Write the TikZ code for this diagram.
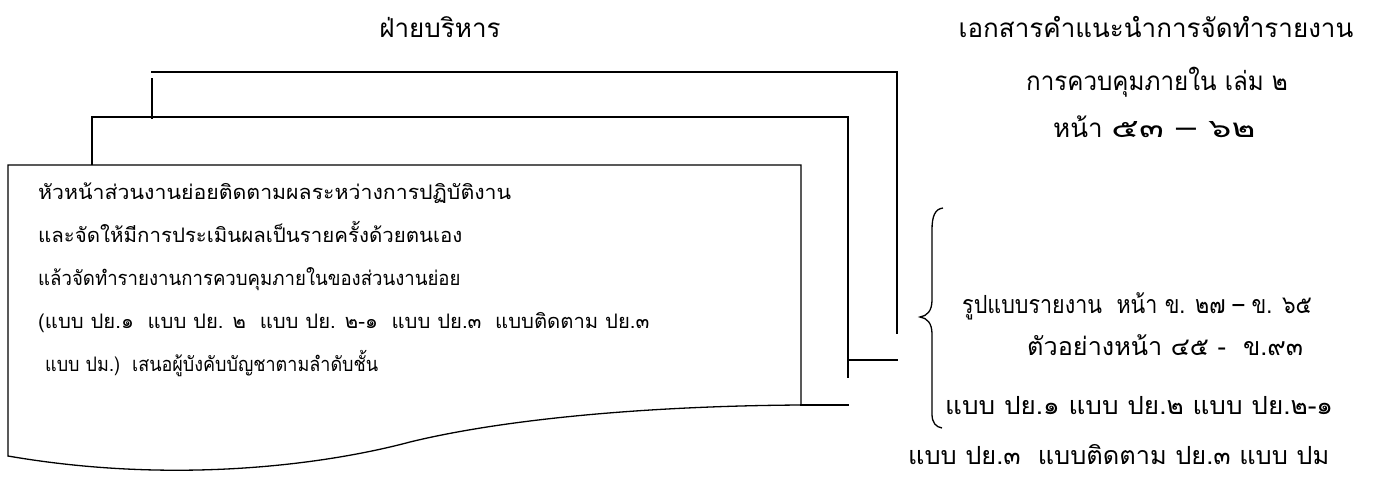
\documentclass[tikz,border=0pt]{standalone}
\usepackage{fontspec}
\newfontfamily\thai[Script=Thai]{Loma}
\newcommand{\sx}[2]{\scalebox{#1}[1]{#2}}
\begin{document}
\begin{tikzpicture}[x=1pt,y=-1pt,
  ln/.style={line width=1.3pt, line join=miter, line cap=rect},
  ltxt/.style={font=\thai\fontsize{20}{24}\selectfont, inner sep=0pt, anchor=base west},
  htxt/.style={font=\thai\fontsize{26}{30}\selectfont, inner sep=0pt, anchor=base},
  rtxt/.style={font=\thai\fontsize{25}{30}\selectfont, inner sep=0pt, anchor=base west}]
\useasboundingbox (0,0) rectangle (1374,477);
% back document
\coordinate (bl) at (152,72); \coordinate (br) at (897,72); \coordinate (bb) at (897,333);
\draw[ln] (152,79) -- (152,118);
\draw[ln] (bl) -- (br) -- (bb);
% middle document
\coordinate (ml) at (92,117); \coordinate (mr) at (848,117); \coordinate (mb) at (848,377);
\draw[ln] (92,164) -- (ml) -- (mr) -- (mb);
\coordinate (m1) at (848,360); \coordinate (m2) at (897,360);
\draw[ln] (m1) -- (m2);
% front document
\coordinate (fl) at (8,165); \coordinate (fr) at (801,165); \coordinate (fb) at (801,405);
\draw[ln] (8,456) -- (fl) -- (fr) -- (fb)
  .. controls (640,406) and (500,420) .. (410,442)
  .. controls (320,466) and (170,484) .. (8,456);
\coordinate (f1) at (801,405); \coordinate (f2) at (848,405);
\draw[ln] (f1) -- (f2);
% brace
\draw[line width=1.3pt] (943,208) .. controls (935,209) and (932,216) .. (932,230)
  -- (932,300) .. controls (932,311) and (927,316) .. (920,317)
  .. controls (927,318) and (932,323) .. (932,334)
  -- (932,414) .. controls (932,423) and (936,427) .. (942,428);
% texts
\node[htxt] (t1) at (440,37) {ฝ่ายบริหาร};
\node[htxt] (h1) at (1156,37) {เอกสารคำแนะนำการจัดทำรายงาน};
\node[htxt] (h2) at (1157,90) {\sx{0.93}{การควบคุมภายใน เล่ม ๒}};
\node[htxt, anchor=base west] (h3) at (1053,137) {หน้า \sx{1.4}{๕๓ – ๖๒}};
\node[ltxt] (l1) at (38,199) {\sx{1.064}{หัวหน้าส่วนงานย่อยติดตามผลระหว่างการปฏิบัติงาน}};
\node[ltxt] (l2) at (38,242) {\sx{1.023}{และจัดให้มีการประเมินผลเป็นรายครั้งด้วยตนเอง}};
\node[ltxt] (l3) at (38,285) {\sx{0.93}{แล้วจัดทำรายงานการควบคุมภายในของส่วนงานย่อย}};
\node[ltxt] (l4) at (38,328) {\sx{1.014}{(แบบ ปย.๑\ \ แบบ ปย. ๒\ \ แบบ ปย. ๒-๑\ \ แบบ ปย.๓\ \ แบบติดตาม ปย.๓}};
\node[ltxt] (l5) at (45,371) {\sx{0.9}{แบบ ปม.)\ \ เสนอผู้บังคับบัญชาตามลำดับชั้น}};
\node[rtxt] (r1) at (962,313) {\sx{0.86}{รูปแบบรายงาน\ \ หน้า ข. ๒๗ – ข. ๖๕}};
\node[rtxt] (r2) at (1027,355) {\sx{1.01}{ตัวอย่างหน้า ๔๕ -\ \ ข.๙๓}};
\node[rtxt] (r3) at (945,414) {\sx{1.045}{แบบ ปย.๑ แบบ ปย.๒ แบบ ปย.๒-๑}};
\node[rtxt] (r4) at (908,464) {\sx{1.015}{แบบ ปย.๓\ \ แบบติดตาม ปย.๓ แบบ ปม}};
\end{tikzpicture}
\end{document}
